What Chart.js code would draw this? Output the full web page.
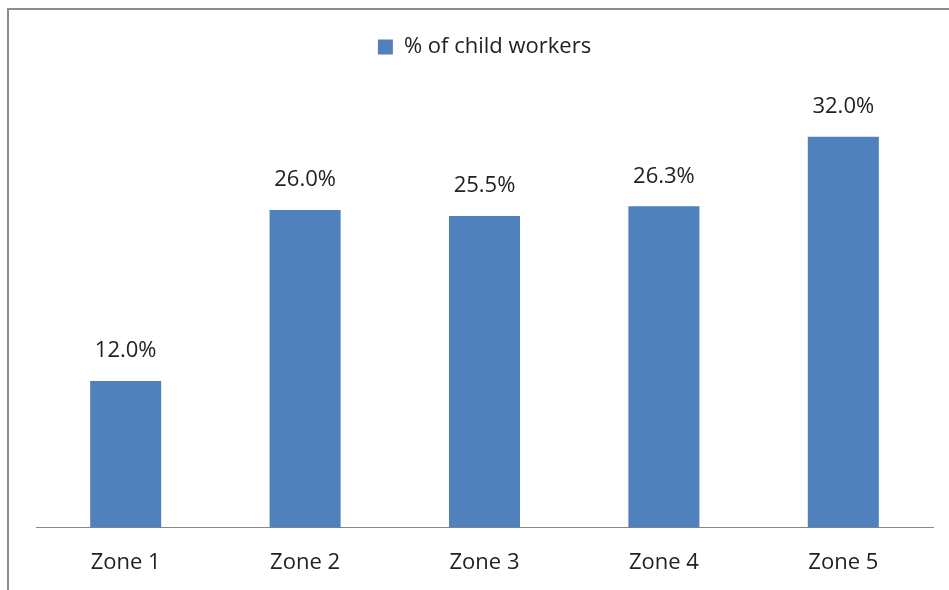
<!DOCTYPE html>
<html>
<head>
<meta charset="utf-8">
<script src="https://cdn.jsdelivr.net/npm/chart.js@4/dist/chart.umd.min.js"></script>
<style>
  html, body { margin: 0; padding: 0; background: #fff; }
  .wrap { position: relative; width: 949px; height: 590px; }
  .frame { position: absolute; left: 7px; top: 8px; right: 0; bottom: 0;
           border-top: 2px solid #8c8c8c; border-left: 2px solid #8c8c8c; }
  canvas { position: absolute; left: 0; top: 0; }
</style>
</head>
<body>
<div class="wrap">
  <div class="frame"></div>
  <canvas id="barChart" width="949" height="590"></canvas>
</div>
<script>
// chart data
const zones = ['Zone 1', 'Zone 2', 'Zone 3', 'Zone 4', 'Zone 5'];
const childWorkers = [12.0, 26.0, 25.5, 26.3, 32.0];
const seriesName = '% of child workers';

const textFont = 'Open Sans';

// value labels above the bars
const barLabels = {
  id: 'barLabels',
  afterDatasetsDraw(chart) {
    const ctx = chart.ctx;
    const meta = chart.getDatasetMeta(0);
    ctx.save();
    ctx.font = '22px "' + textFont + '"';
    ctx.fillStyle = '#222';
    ctx.textAlign = 'center';
    ctx.textBaseline = 'middle';
    meta.data.forEach(function (bar, i) {
      ctx.fillText(childWorkers[i].toFixed(1) + '%', bar.x, bar.y - 30);
    });
    ctx.restore();
  }
};

// extra room under the legend
const legendSpace = {
  id: 'legendSpace',
  beforeInit(chart) {
    const origFit = chart.legend.fit;
    chart.legend.fit = function () {
      origFit.bind(chart.legend)();
      this.height += 32;
    };
  }
};

function barChart() {
  const ctx = document.getElementById('barChart');
  new Chart(ctx, {
    type: 'bar',
    data: {
      labels: zones,
      datasets: [{
        label: seriesName,
        data: childWorkers,
        backgroundColor: '#4f81bd',
        borderWidth: 0,
        barPercentage: 0.66,
        categoryPercentage: 0.6
      }]
    },
    options: {
      responsive: false,
      animation: false,
      layout: {
        padding: { left: 36, right: 16, top: 19, bottom: 0 }
      },
      plugins: {
        legend: {
          position: 'top',
          labels: {
            boxWidth: 15,
            boxHeight: 15,
            color: '#222',
            font: { family: textFont, size: 22 },
            padding: 17
          }
        },
        tooltip: { enabled: false }
      },
      scales: {
        x: {
          grid: { display: false },
          border: { display: true, color: '#868686', width: 1 },
          ticks: {
            color: '#222',
            font: { family: textFont, size: 22 },
            padding: 14
          }
        },
        y: {
          display: false,
          min: 0,
          max: 35
        }
      }
    },
    plugins: [legendSpace, barLabels]
  });
}

barChart();
</script>
</body>
</html>
